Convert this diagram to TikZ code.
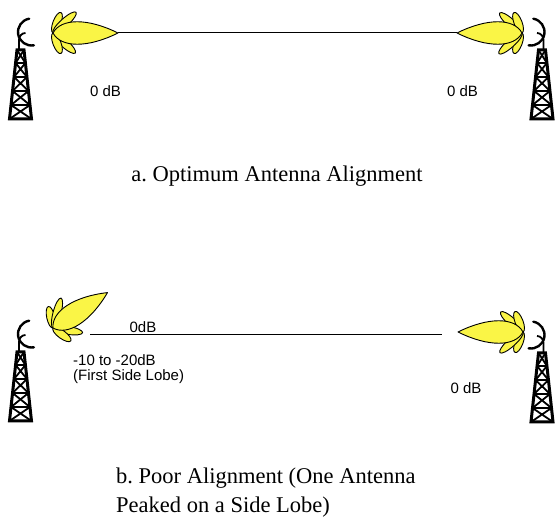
\documentclass[tikz,border=0pt]{standalone}
\usepackage{fontspec}
\setmainfont{Liberation Serif}
\newfontfamily\labelfont{Liberation Sans}
\usetikzlibrary{positioning}

\definecolor{lobefill}{RGB}{250,245,70}

\begin{document}
\frenchspacing
\begin{tikzpicture}[
    x=1pt, y=1pt,
    lbl/.style={font=\labelfont\fontsize{15}{15}\selectfont, inner sep=0pt},
    caption/.style={font=\fontsize{22.5}{29}\selectfont, inner sep=0pt},
    lobe/.style={draw=black, line width=0.9pt, fill=lobefill, line join=round},
    link/.style={draw=black, line width=1pt},
    leg/.style={line width=3pt},
    brace/.style={line width=1.8pt},
    dish/.style={line width=2.4pt, line cap=round},
    tower/.pic={
      \draw[leg, line join=miter] (-11,0) -- (-3.5,69) -- (3.5,69) -- (11,0) -- cycle;
      \foreach \ya/\yb in {0/14,14/28,28/42,42/56,56/69} {
        \pgfmathsetmacro\wa{11-7.5*\ya/69}
        \pgfmathsetmacro\wb{11-7.5*\yb/69}
        \draw[brace] (-\wa,\ya) -- (\wb,\yb) (\wa,\ya) -- (-\wb,\yb) (-\wb,\yb) -- (\wb,\yb);
      }
      \draw[brace] (-1.5,69) -- (-1.5,79) to[out=90,in=180] (5,86);
      \draw[dish] (11,87) ++(100:13.5) arc[start angle=100, end angle=280, radius=13.5pt];
    },
    lobes/.pic={
      \foreach \ang/\h in {69/11,42/15.5,-42/15,-69/11}
        \draw[lobe, rotate=\ang] (\h,0) ellipse[x radius=\h pt, y radius=4pt];
      \draw[lobe] (0,0) .. controls (8,15) and (35,15) .. (65,0)
                        .. controls (35,-15) and (8,-15) .. cycle;
      \coordinate (-tip) at (65,0);
    }]

  \useasboundingbox (0,0) rectangle (555,520);

  % optimum alignment
  \pic (ltow) at (20.5,401) {tower};
  \pic[xscale=-1] (rtow) at (542,401) {tower};
  \pic (lta) at (53,487) {lobes};
  \pic[rotate=180] (rta) at (522,487) {lobes};
  \draw[link] (lta-tip) -- (rta-tip);

  \node[lbl] (ltdb) at (105.5,429) {0 dB};
  \node[lbl] (rtdb) at (462.5,429) {0 dB};
  \node[caption] (capa) at (277,344) {a. Optimum Antenna Alignment};

  % one antenna peaked on a side lobe
  \pic (lbtow) at (20.5,99) {tower};
  \pic[xscale=-1] (rbtow) at (542,98) {tower};
  \pic[rotate=33] (lba) at (53,192) {lobes};
  \pic[rotate=180] (rba) at (523,188) {lobes};
  \coordinate (lbeg) at (90,185);
  \coordinate (lend) at (442,185);
  \draw[link] (lbeg) -- (lend);

  \node[lbl] (lbdb) at (143,193) {0dB};
  \node[lbl, align=left, anchor=west] (side) at (73,151) {-10 to -20dB\\(First Side Lobe)};
  \node[lbl] (rbdb) at (466,132) {0 dB};
  \node[caption, align=left, anchor=west] (capb) at (116,27.5)
    {b. Poor Alignment (One Antenna\\Peaked on a Side Lobe)};
\end{tikzpicture}
\end{document}
